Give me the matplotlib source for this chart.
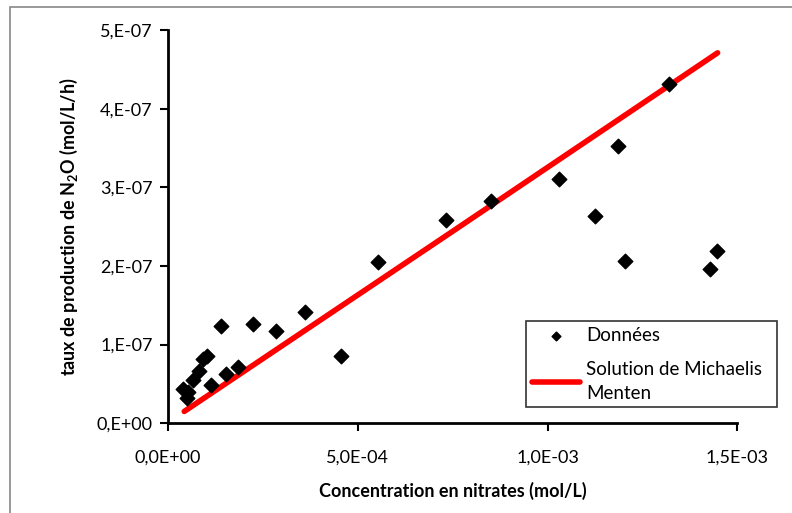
import matplotlib
matplotlib.use("Agg")
import matplotlib.pyplot as plt
from matplotlib.patches import Rectangle

plt.rcParams['font.family'] = ['Lato', 'DejaVu Sans']
plt.rcParams['mathtext.fontset'] = 'custom'
plt.rcParams['mathtext.rm'] = 'Lato'
plt.rcParams['mathtext.bf'] = 'Lato:bold'

# données
nitrates = [4.0e-5, 4.9e-5, 5.3e-5, 6.5e-5, 8.2e-5, 9.3e-5, 1.02e-4, 1.13e-4,
            1.41e-4, 1.53e-4, 1.85e-4, 2.24e-4, 2.86e-4, 3.61e-4, 4.57e-4,
            5.53e-4, 7.33e-4, 8.52e-4, 1.03e-3, 1.126e-3, 1.185e-3, 1.204e-3,
            1.321e-3, 1.429e-3, 1.447e-3]
taux_n2o = [4.4e-8, 3.2e-8, 4.0e-8, 5.5e-8, 6.7e-8, 8.2e-8, 8.6e-8, 4.9e-8,
            1.24e-7, 6.3e-8, 7.2e-8, 1.26e-7, 1.17e-7, 1.41e-7, 8.6e-8,
            2.05e-7, 2.59e-7, 2.83e-7, 3.10e-7, 2.63e-7, 3.53e-7, 2.06e-7,
            4.31e-7, 1.96e-7, 2.19e-7]

# solution de Michaelis Menten (quasi linéaire sur la plage)
x_mm = [4.3e-5, 7.5e-4, 1.448e-3]
y_mm = [1.5e-8, 2.44e-7, 4.71e-7]

xticks = [0, 5e-4, 1e-3, 1.5e-3]
xtick_labels = ['0,0E+00', '5,0E-04', '1,0E-03', '1,5E-03']
yticks = [0, 1e-7, 2e-7, 3e-7, 4e-7, 5e-7]
ytick_labels = ['0,E+00', '1,E-07', '2,E-07', '3,E-07', '4,E-07', '5,E-07']

fig = plt.figure(figsize=(7.92, 5.13), dpi=100)
ax = fig.add_axes([0.212, 0.175, 0.719, 0.7665])

# cadre gris du graphique
fig.patches.append(Rectangle((10 / 792, -0.1), 1.2, 1.1 - 7 / 513,
                             transform=fig.transFigure, fill=False,
                             edgecolor='#888888', linewidth=1.2))

ax.scatter(nitrates, taux_n2o, marker='D', s=55, color='black',
           label='Données', zorder=3)
ax.plot(x_mm, y_mm, color='#ff0000', linewidth=4, solid_capstyle='round',
        label='Solution de Michaelis\nMenten', zorder=2)

ax.set_xlim(0, 1.5e-3)
ax.set_ylim(0, 5e-7)
ax.set_xticks(xticks)
ax.set_xticklabels(xtick_labels)
ax.set_yticks(yticks)
ax.set_yticklabels(ytick_labels)
ax.tick_params(labelsize=13, direction='out', length=6, width=1.5, pad=13)
ax.tick_params(axis='y', pad=5)

for s in ['top', 'right']:
    ax.spines[s].set_visible(False)
for s in ['left', 'bottom']:
    ax.spines[s].set_linewidth(2)

ax.set_xlabel('Concentration en nitrates (mol/L)', fontsize=13,
              fontweight='bold', labelpad=12)
ax.set_ylabel(r'taux de production de N$\mathbf{_2}$O (mol/L/h)', fontsize=13,
              fontweight='bold', labelpad=12)

leg = ax.legend(loc='lower left', bbox_to_anchor=(0.629, 0.04, 0.44, 0.265),
                mode='expand', fontsize=13.5, frameon=True, fancybox=False,
                handlelength=2.6, handletextpad=0.3, labelspacing=0.9,
                borderaxespad=0, markerscale=0.6, borderpad=0.3)
leg.get_frame().set_edgecolor('black')
leg.get_frame().set_linewidth(1.2)
for t in leg.get_texts():
    t.set_linespacing(1.5)

fig.savefig('out.png', dpi=100)
